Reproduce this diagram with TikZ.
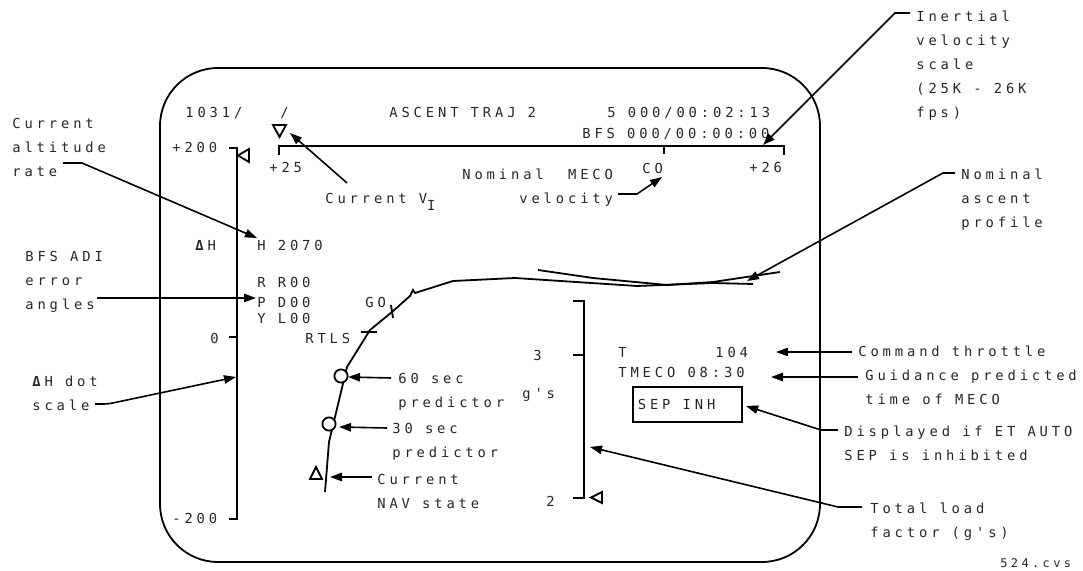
\documentclass[tikz,border=0pt]{standalone}
\usepackage{fontspec}
\usetikzlibrary{arrows.meta, positioning}
\newfontfamily\crtfam[LetterSpace=28]{DejaVu Sans Mono}
\newcommand\crt{\crtfam\fontsize{6.9pt}{12pt}\selectfont}
\newcommand\crtsmall{\crtfam\fontsize{6pt}{10pt}\selectfont}

\begin{document}
\begin{tikzpicture}[x=0.5pt, y=-0.5pt,
  txt/.style={font=\crt, inner sep=0pt, anchor=base west, align=left, text=black!85},
  lead/.style={line width=0.8pt, -{Triangle[length=6pt,width=4.2pt]}},
  crt/.style={line width=0.9pt},
  symb/.style={line width=0.9pt, fill=white}
]
  \useasboundingbox (0,0) rectangle (1083,571);

  % Display frame
  \draw[crt, rounded corners=29pt] (160,68) rectangle (820,562);

  % Header lines
  \node[txt] (page) at (185,118) {1031/};
  \node[txt] (slash) at (280,118) {/};
  \node[txt] (title) at (389,118) {ASCENT TRAJ 2};
  \node[txt] (met) at (607,118) {5 000/00:02:13};
  \node[txt] (bfs) at (582,139) {BFS 000/00:00:00};

  % Inertial velocity scale
  \coordinate (vl) at (279,146);
  \coordinate (vr) at (784,146);
  \coordinate (vco) at (664,146);
  \draw[crt] ([yshift=-4.5pt]vl) -- (vl) -- (vr) -- ([yshift=-4.5pt]vr);
  \draw[crt] (vco) -- ([yshift=-4pt]vco);
  \node[txt] (v25) at (269,173) {+25};
  \node[txt] (vco lbl) at (642,174) {CO};
  \node[txt] (v26) at (749,173) {+26};
  \draw[symb] (273,125) -- (286,125) -- (279.5,137) -- cycle;
  \coordinate (vitip) at (290,133);

  % Delta H scale
  \draw[crt] (229,148) -- (237,148) -- (237,519) -- (229,519);
  \foreach \y in {337} {
    \draw[crt] (229,\y) -- (237,\y);
  }
  \draw[symb] (249,149) -- (249,162) -- (238,155.5) -- cycle;
  \node[txt] (dh200) at (172,153) {+200};
  \node[txt] (dh0) at (210,344) {0};
  \node[txt] (dhm200) at (172,524) {-200};
  \node[txt] (dh) at (195,251) {\textbf{Δ}H};

  % Altitude rate and ADI errors
  \node[txt] (hdot) at (257,251) {H 2070};
  \node[txt] (roll) at (257,288) {R R00};
  \node[txt] (pitch) at (257,308) {P D00};
  \node[txt] (yaw) at (257,324) {Y L00};

  % Trajectory
  \draw[crt] (325,492) -- (329,442) -- (347,367) -- (370,330) -- (392,312)
    -- (410,296) -- (413,290) -- (415,293) -- (453,281) -- (515,278)
    -- (637,286) -- (713,283) -- (753,284);
  \draw[crt] (538,270) -- (593,278) -- (667,285) -- (713,282) -- (780,272);
  \draw[crt] (361,332) -- (377,332);
  \draw[crt] (391,305) -- (393,318);
  \node[txt] (go) at (365,308) {GO};
  \node[txt] (rtls) at (305,344) {RTLS};
  \draw[symb] (341,376) circle (3.3pt);
  \draw[symb] (329,424) circle (3.3pt);
  \draw[symb] (310,479) -- (322,479) -- (316,467) -- cycle;

  % Load factor scale
  \draw[crt] (573,301) -- (584,301) -- (584,498) -- (573,498);
  \draw[crt] (573,355) -- (584,355);
  \draw[symb] (602,492) -- (602,503) -- (591,497.5) -- cycle;
  \node[txt] (g3) at (533,361) {3};
  \node[txt] (g2) at (546,507) {2};
  \node[txt] (gs) at (522,399) {g's};

  % Throttle and MECO
  \node[txt] (thr) at (618,358) {T};
  \node[txt] (thrval) at (715,358) {104};
  \node[txt] (tmeco) at (618,378) {TMECO 08:30};
  \node[draw, crt, txt, anchor=west, inner xsep=2.5pt,
    minimum height=17.5pt] (sep) at (632,404.5) {\makebox[49.5pt][l]{SEP INH}};

  % Callouts, left
  \node[txt] (curalt) at (12,177) {Current\\altitude\\rate};
  \node[txt] (adi) at (25,310) {BFS ADI\\error\\angles};
  \node[txt] (dhdot) at (32,411) {\textbf{Δ}H dot\\scale};
  \draw[lead] (63,163) -- (82,163) -- (257,238);
  \draw[lead] (97,298) -- (256,298);
  \draw[lead, rounded corners=2pt] (95,404) -- (108,404) -- (236,377);

  % Callouts, middle
  \node[txt] (curvi) at (325,204) {Current V\raisebox{-3.5pt}{I}};
  \node[txt, align=right] (mecov) at (462,204) {Nominal\ \ MECO\\velocity};
  \node[txt] (pred60) at (398,408) {60 sec\\predictor};
  \node[txt] (pred30) at (392,458) {30 sec\\predictor};
  \node[txt] (nav) at (377,509) {Current\\NAV state};
  \draw[lead] (347,183) -- (vitip);
  \draw[lead] (618,194) -- (637,194) -- (662,177);
  \draw[lead] (391,378) -- (348,377);
  \draw[lead] (387,428) -- (339,427);
  \draw[lead] (372,477) -- (330,477);

  % Callouts, right
  \node[txt] (inert) at (916,118) {Inertial\\velocity\\scale\\(25K - 26K\\fps)};
  \node[txt] (nomasc) at (961,228) {Nominal\\ascent\\profile};
  \node[txt] (cmdthr) at (858,357) {Command throttle};
  \node[txt] (guid) at (865,405) {Guidance predicted\\time of MECO};
  \node[txt] (sepnote) at (844,461) {Displayed if ET AUTO\\SEP is inhibited};
  \node[txt] (gload) at (870,538) {Total load\\factor (g's)};
  \draw[lead] (910,13) -- (895,13) -- (763,145);
  \draw[lead] (955,173) -- (943,173) -- (747,281);
  \draw[lead] (852,352) -- (776,352);
  \draw[lead] (858,377) -- (771,377);
  \draw[lead] (838,430) -- (821,430) -- (746,406);
  \draw[lead] (862,507) -- (838,507) -- (590,447);

  \node[txt, font=\crtsmall] (fig) at (1000,568) {524.cvs};
\end{tikzpicture}
\end{document}
